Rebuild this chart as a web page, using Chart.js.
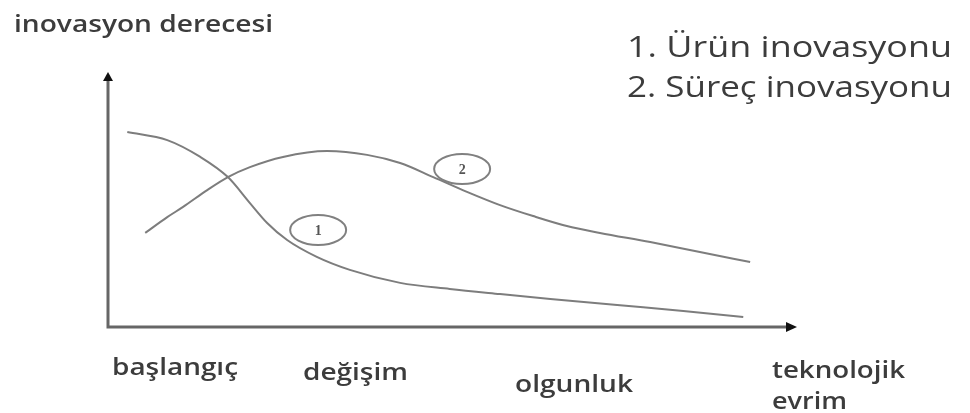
<!DOCTYPE html>
<html>
<head>
<meta charset="utf-8">
<script src="https://cdn.jsdelivr.net/npm/chart.js@4"></script>
<style>
html,body{margin:0;padding:0;background:#fff;}
canvas{display:block;}
</style>
</head>
<body>
<canvas id="c" width="970" height="413"></canvas>
<script>
// ---- data ----
const productX = [2.8, 8.6, 13.4, 17.4, 20.6, 23.1, 26.0, 30.3, 35.1, 42.4, 49.6, 56.9, 64.2, 73.9, 83.5, 92.2];
const productY = [76.5, 73.3, 66.7, 58.8, 48.6, 40.8, 34.1, 27.5, 22.4, 17.3, 14.9, 12.9, 11.0, 8.6, 6.3, 3.9];
const processX = [5.4, 8.6, 10.9, 14.4, 17.4, 20.6, 25.4, 31.8, 37.6, 42.4, 47.2, 52.1, 56.9, 61.7, 66.6, 71.4, 78.7, 85.9, 93.2];
const processY = [36.9, 43.1, 47.1, 53.7, 58.8, 62.7, 66.7, 69.0, 67.5, 64.3, 58.8, 53.0, 47.8, 43.5, 39.6, 36.9, 33.3, 29.4, 25.5];
const seriesNames = ["1. Ürün inovasyonu", "2. Süreç inovasyonu"];
const markerLabels = ["1", "2"];
const markerX = [30.5, 51.4];
const markerY = [38.0, 62.0];
const yAxisTitle = "inovasyon derecesi";
const stageLabels = ["başlangıç", "değişim", "olgunluk", "teknolojik", "evrim"];

const toPts = (xs, ys) => xs.map((x, i) => ({x: x, y: ys[i]}));

const TEXT = '#3c3c3c';
const FONT = '"Open Sans", "DejaVu Sans", sans-serif';

function fitText(ctx, txt, left, baseline, size, width, weight) {
  ctx.save();
  ctx.font = (weight || '600') + ' ' + size + 'px ' + FONT;
  const w = ctx.measureText(txt).width;
  const sx = width / w;
  ctx.translate(left, baseline);
  ctx.scale(sx, 1);
  ctx.textAlign = 'left';
  ctx.textBaseline = 'alphabetic';
  ctx.fillStyle = TEXT;
  ctx.fillText(txt, 0, 0);
  ctx.restore();
}

const decor = {
  id: 'decor',
  beforeDatasetsDraw(chart) {
    const ctx = chart.ctx;
    const xs = chart.scales.x, ys = chart.scales.y;
    const x0 = xs.getPixelForValue(0), x1 = xs.getPixelForValue(100);
    const y0 = ys.getPixelForValue(0), y1 = ys.getPixelForValue(100);
    ctx.save();
    ctx.strokeStyle = '#666';
    ctx.lineWidth = 3;
    ctx.beginPath();
    ctx.moveTo(x0, y0 + 1.5);
    ctx.lineTo(x0, y1 + 6);
    ctx.moveTo(x0 - 1.5, y0);
    ctx.lineTo(x1 - 8, y0);
    ctx.stroke();
    ctx.fillStyle = '#111';
    ctx.beginPath();
    ctx.moveTo(x0, y1);
    ctx.lineTo(x0 - 5, y1 + 9);
    ctx.lineTo(x0 + 5, y1 + 9);
    ctx.closePath();
    ctx.fill();
    ctx.beginPath();
    ctx.moveTo(x1, y0);
    ctx.lineTo(x1 - 11, y0 - 5);
    ctx.lineTo(x1 - 11, y0 + 5);
    ctx.closePath();
    ctx.fill();
    ctx.restore();
  },
  afterDatasetsDraw(chart) {
    const ctx = chart.ctx;
    const xs = chart.scales.x, ys = chart.scales.y;
    ctx.save();
    for (let i = 0; i < markerLabels.length; i++) {
      const cx = xs.getPixelForValue(markerX[i]);
      const cy = ys.getPixelForValue(markerY[i]);
      ctx.strokeStyle = '#808080';
      ctx.lineWidth = 2;
      ctx.beginPath();
      ctx.ellipse(cx, cy, 28, 15, 0, 0, Math.PI * 2);
      ctx.stroke();
      ctx.fillStyle = '#555';
      ctx.font = 'bold 14px "Liberation Serif", serif';
      ctx.textAlign = 'center';
      ctx.textBaseline = 'middle';
      ctx.fillText(markerLabels[i], cx, cy + 1);
    }
    ctx.restore();
    fitText(ctx, yAxisTitle, 14, 32, 24, 259);
    fitText(ctx, seriesNames[0], 627, 57, 30, 325, '500');
    fitText(ctx, seriesNames[1], 627, 97, 30, 325, '500');
    fitText(ctx, stageLabels[0], 112, 375, 24, 126);
    fitText(ctx, stageLabels[1], 303, 380, 24, 105);
    fitText(ctx, stageLabels[2], 515, 392, 24, 118);
    fitText(ctx, stageLabels[3], 772, 378, 24, 133);
    fitText(ctx, stageLabels[4], 772, 409, 24, 75);
  }
};

new Chart(document.getElementById('c'), {
  type: 'line',
  data: {
    datasets: [
      {label: seriesNames[0], data: toPts(productX, productY), borderColor: '#7d7d7d', borderWidth: 2, pointRadius: 0, cubicInterpolationMode: 'monotone', fill: false},
      {label: seriesNames[1], data: toPts(processX, processY), borderColor: '#7d7d7d', borderWidth: 2, pointRadius: 0, cubicInterpolationMode: 'monotone', fill: false}
    ]
  },
  options: {
    responsive: false,
    animation: false,
    devicePixelRatio: 1,
    layout: {padding: {left: 108, right: 173, top: 72, bottom: 86}},
    plugins: {legend: {display: false}, tooltip: {enabled: false}},
    scales: {
      x: {type: 'linear', min: 0, max: 100, display: false},
      y: {type: 'linear', min: 0, max: 100, display: false}
    }
  },
  plugins: [decor]
});
</script>
</body>
</html>
